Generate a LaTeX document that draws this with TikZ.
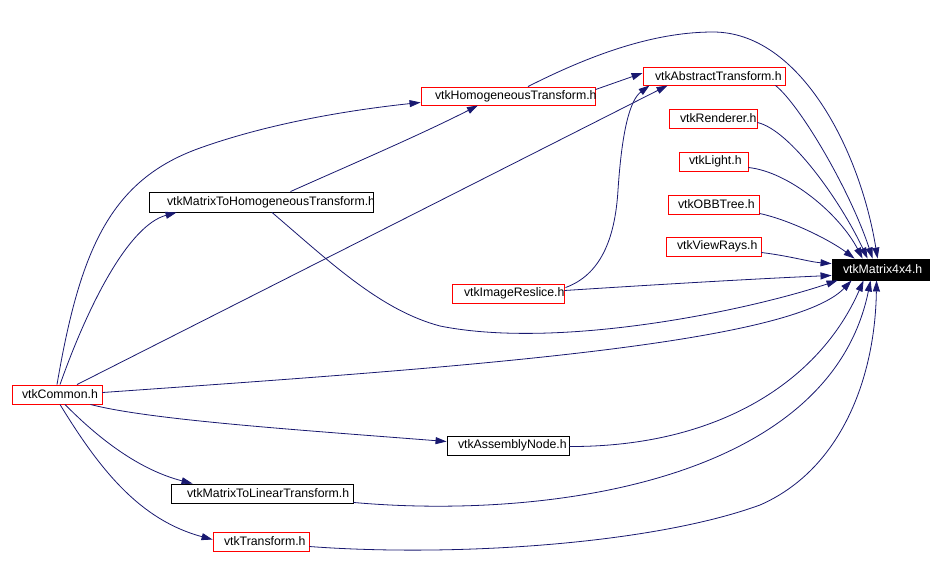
\documentclass[tikz,border=0pt]{standalone}
\usepackage{fontspec}
\setmainfont{Liberation Sans}
\usetikzlibrary{arrows.meta,calc}
\definecolor{edgeblue}{RGB}{25,25,112}
\newcommand\bx[3]{\makebox[#1pt][l]{\hspace*{#2pt}#3}}
\begin{document}
\begin{tikzpicture}[x=1pt,y=-1pt,
  nbox/.style={draw, line width=0.9pt, inner sep=0pt, font=\fontsize{12.3}{14}\selectfont, anchor=center, minimum height=19pt},
  redbox/.style={nbox, draw=red},
  blackbox/.style={nbox, draw=black},
  edge/.style={color=edgeblue, line width=0.8pt, -{Triangle[length=11pt,width=7pt]}}
]
\useasboundingbox (0,0) rectangle (941,566);
\fill[white] (0,0) rectangle (941,566);

% nodes
\node[nbox, fill=black, text=white, minimum height=21pt] (m) at (880.5,269.5) {\bx{97}{11}{vtkMatrix4x4.h}};
\node[redbox, minimum height=18pt] (abs) at (714,76) {\bx{142}{12}{vtkAbstractTransform.h}};
\node[redbox, minimum height=18pt] (hom) at (508,96) {\bx{174}{14}{vtkHomogeneousTransform.h}};
\node[redbox] (ren) at (713,118.5) {\bx{88}{11}{vtkRenderer.h}};
\node[redbox] (lig) at (713.5,161.5) {\bx{69}{10}{vtkLight.h}};
\node[redbox] (obb) at (713.5,204.5) {\bx{91}{10}{vtkOBBTree.h}};
\node[redbox] (vr) at (713.5,246.5) {\bx{95}{11}{vtkViewRays.h}};
\node[blackbox, minimum height=20pt] (m2h) at (261,202) {\bx{224}{18}{vtkMatrixToHomogeneousTransform.h}};
\node[redbox] (res) at (508,293.5) {\bx{112}{12}{vtkImageReslice.h}};
\node[redbox] (com) at (57,394.5) {\bx{90}{10}{vtkCommon.h}};
\node[blackbox] (asm) at (508,445.5) {\bx{122}{11}{vtkAssemblyNode.h}};
\node[blackbox] (m2l) at (262,493.5) {\bx{182}{16}{vtkMatrixToLinearTransform.h}};
\node[redbox] (tr) at (261,541.5) {\bx{96}{11}{vtkTransform.h}};

% edges
\draw[edge] ($(hom.north east)+(0,3)$) -- ($(abs.west)+(0,-3)$);
\draw[edge] ($(hom.north)+(20,0)$) .. controls (600,50) and (660,32) .. (713,32)
  .. controls (800,32) and (860,150) .. ($(m.north west)+(46,0)$);
\draw[edge] ($(abs.south east)+(-10,0)$) .. controls (800,105) and (850,190) .. ($(m.north west)+(41,0)$);
\draw[edge] ($(ren.east)+(0,4)$) .. controls (790,130) and (840,200) .. ($(m.north west)+(36,0)$);
\draw[edge] ($(lig.east)+(0,6)$) .. controls (790,172) and (840,215) .. ($(m.north west)+(31,0)$);
\draw[edge] ($(obb.south east)+(0,-1)$) .. controls (790,220) and (830,240) .. ($(m.north west)+(23,0)$);
\draw[edge] ($(vr.east)+(0,6)$) .. controls (790,256) and (810,262) .. ($(m.north west)+(0,5)$);
\draw[edge] ($(res.east)+(0,-3)$) .. controls (650,285) and (750,279) .. ($(m.south west)+(0,-5)$);
\draw[edge] ($(res.north east)+(1,4)$) .. controls (600,275) and (615,240) .. (618,190)
  .. controls (622,130) and (630,100) .. ($(abs.south west)+(7,0)$);
\draw[edge] ($(m2h.north east)+(-83,0)$) .. controls (350,165) and (420,135) .. ($(hom.south)+(-30,0)$);
\draw[edge] ($(m2h.south)+(11,0)$) .. controls (330,262) and (380,310) .. (440,326)
  .. controls (560,350) and (750,310) .. ($(m.south west)+(6,0)$);
\draw[edge] (com.north) .. controls (80,250) and (110,180) .. (200,148)
  .. controls (270,123) and (350,110) .. ($(hom.south west)+(0,-3)$);
\draw[edge] ($(com.north)+(3,0)$) .. controls (90,300) and (130,225) .. ($(m2h.south west)+(28,0)$);
\draw[edge] ($(com.north)+(20,0)$) -- ($(abs.south west)+(25,0)$);
\draw[edge] ($(com.east)+(0,-2)$) .. controls (450,368) and (790,345) .. ($(m.south west)+(20,0)$);
\draw[edge] ($(com.south east)+(-12,0)$) .. controls (150,420) and (300,430) .. ($(asm.west)+(0,-4)$);
\draw[edge] ($(com.south)+(8,0)$) .. controls (100,440) and (140,470) .. ($(m2l.north west)+(22,0)$);
\draw[edge] ($(com.south)+(3,0)$) .. controls (100,470) and (140,520) .. ($(tr.west)+(0,-2)$);
\draw[edge] ($(asm.east)+(0,1)$) .. controls (720,447) and (820,380) .. ($(m.south west)+(32,0)$);
\draw[edge] ($(m2l.south east)+(0,-1)$) .. controls (550,520) and (830,480) .. ($(m.south west)+(39,0)$);
\draw[edge] ($(tr.east)+(0,5)$) .. controls (450,557) and (650,545) .. (760,505)
  .. controls (840,470) and (875,380) .. ($(m.south west)+(45,0)$);
\end{tikzpicture}
\end{document}
